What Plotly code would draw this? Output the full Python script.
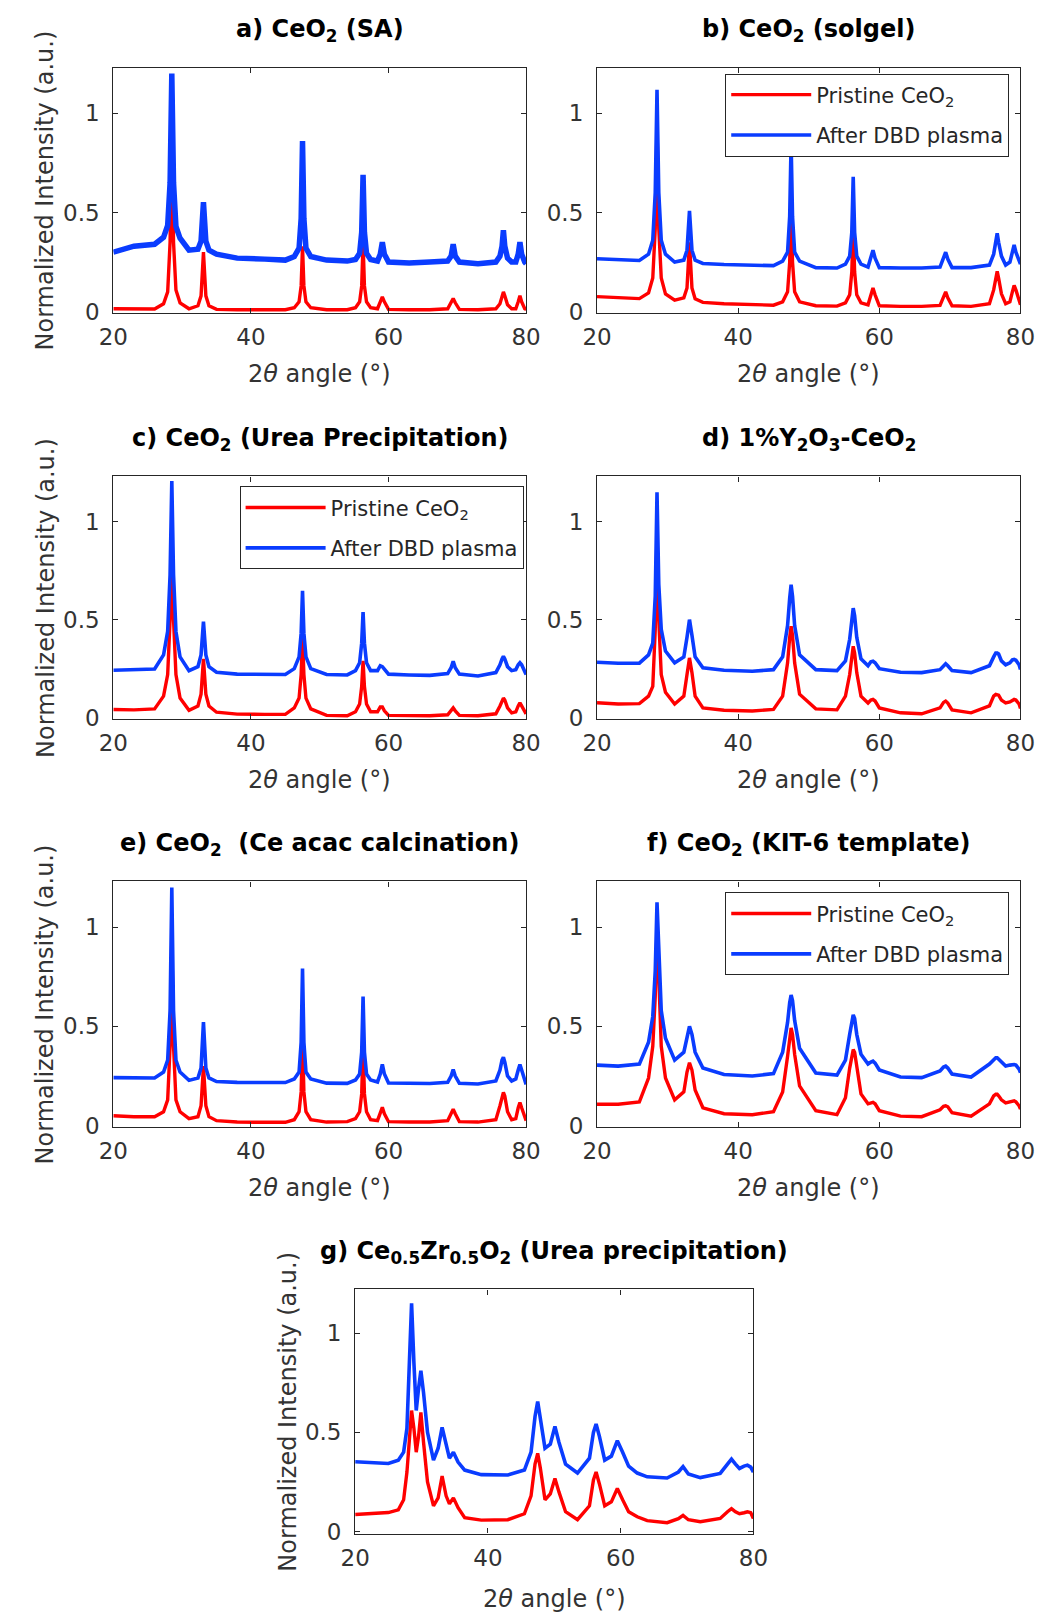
import plotly.graph_objects as go

# ---------------- data ----------------
# common 2-theta sampling for the CeO2 patterns (panels a-f)
TWO_THETA = [20, 23, 26,
             27.3, 27.9, 28.25, 28.5, 28.75, 29.1, 29.7,
             31, 32.3, 32.75, 33.1, 33.45, 33.9,
             35, 38, 42, 45,
             46.3, 47.0, 47.3, 47.5, 47.7, 48.0, 48.7,
             51, 54,
             55.2, 55.8, 56.1, 56.3, 56.5, 56.8, 57.4,
             58.4, 58.8, 59.1, 59.4, 60,
             63, 66,
             68.6, 69.1, 69.4, 69.7, 70.3,
             73,
             75.6, 76.2, 76.5, 76.7, 76.9, 77.3, 77.9,
             78.5, 78.85, 79.1, 79.35, 79.8, 80]

A_PRISTINE = [0.015, 0.015, 0.014,
              0.04, 0.10, 0.35, 1.00, 0.35, 0.11, 0.045,
              0.015, 0.03, 0.08, 0.30, 0.08, 0.03,
              0.012, 0.01, 0.01, 0.01,
              0.02, 0.05, 0.13, 0.33, 0.13, 0.05, 0.02,
              0.01, 0.01,
              0.02, 0.05, 0.13, 0.35, 0.13, 0.05, 0.02,
              0.015, 0.05, 0.075, 0.05, 0.012,
              0.01, 0.01,
              0.015, 0.045, 0.067, 0.045, 0.012,
              0.01,
              0.015, 0.04, 0.08, 0.10, 0.08, 0.035, 0.015,
              0.015, 0.05, 0.08, 0.05, 0.015, 0.012]
A_PLASMA = [0.30, 0.33, 0.34,
            0.375, 0.435, 0.65, 1.20, 0.65, 0.43, 0.37,
            0.31, 0.315, 0.355, 0.552, 0.355, 0.31,
            0.29, 0.27, 0.265, 0.26,
            0.278, 0.32, 0.47, 0.86, 0.47, 0.32, 0.278,
            0.26, 0.255,
            0.263, 0.294, 0.40, 0.69, 0.40, 0.294, 0.263,
            0.255, 0.29, 0.35, 0.29, 0.25,
            0.245, 0.25,
            0.255, 0.28, 0.34, 0.28, 0.25,
            0.242,
            0.25, 0.28, 0.33, 0.41, 0.33, 0.27, 0.25,
            0.25, 0.29, 0.35, 0.29, 0.25, 0.242]

B_PRISTINE = [0.076, 0.07, 0.066,
              0.095, 0.17, 0.42, 0.95, 0.42, 0.17, 0.09,
              0.058, 0.07, 0.12, 0.35, 0.12, 0.065,
              0.047, 0.04, 0.036, 0.033,
              0.05, 0.10, 0.25, 0.60, 0.25, 0.10, 0.05,
              0.03, 0.028,
              0.045, 0.085, 0.20, 0.45, 0.20, 0.085, 0.045,
              0.035, 0.085, 0.12, 0.085, 0.03,
              0.027, 0.027,
              0.032, 0.07, 0.10, 0.07, 0.03,
              0.027,
              0.04, 0.11, 0.17, 0.204, 0.17, 0.09, 0.04,
              0.05, 0.10, 0.133, 0.11, 0.05, 0.035]
B_PLASMA = [0.267, 0.262, 0.258,
            0.29, 0.36, 0.60, 1.118, 0.60, 0.36, 0.29,
            0.25, 0.26, 0.31, 0.508, 0.31, 0.26,
            0.243, 0.238, 0.235, 0.232,
            0.255, 0.30, 0.48, 0.85, 0.48, 0.30, 0.255,
            0.222, 0.22,
            0.24, 0.28, 0.40, 0.68, 0.40, 0.28, 0.24,
            0.225, 0.27, 0.31, 0.27, 0.222,
            0.22, 0.22,
            0.225, 0.265, 0.30, 0.265, 0.222,
            0.222,
            0.235, 0.29, 0.35, 0.395, 0.35, 0.28, 0.235,
            0.25, 0.30, 0.337, 0.30, 0.25, 0.24]

C_PRISTINE = [0.042, 0.04, 0.045,
              0.11, 0.22, 0.50, 0.95, 0.50, 0.22, 0.10,
              0.038, 0.06, 0.12, 0.30, 0.12, 0.06,
              0.028, 0.018, 0.017, 0.017,
              0.05, 0.10, 0.22, 0.42, 0.22, 0.10, 0.045,
              0.012, 0.01,
              0.03, 0.07, 0.16, 0.29, 0.16, 0.07, 0.03,
              0.03, 0.055, 0.055, 0.035, 0.012,
              0.01, 0.01,
              0.015, 0.035, 0.05, 0.035, 0.012,
              0.01,
              0.02, 0.06, 0.09, 0.10, 0.09, 0.05, 0.025,
              0.03, 0.06, 0.076, 0.06, 0.03, 0.02]
C_PLASMA = [0.242, 0.245, 0.248,
            0.32, 0.44, 0.73, 1.207, 0.73, 0.44, 0.31,
            0.24, 0.26, 0.32, 0.49, 0.32, 0.26,
            0.232, 0.222, 0.22, 0.22,
            0.25, 0.31, 0.43, 0.647, 0.43, 0.31, 0.25,
            0.22, 0.218,
            0.24, 0.28, 0.38, 0.539, 0.38, 0.28, 0.24,
            0.24, 0.265, 0.26, 0.245, 0.222,
            0.218, 0.216,
            0.225, 0.255, 0.288, 0.255, 0.222,
            0.213,
            0.23, 0.27, 0.30, 0.313, 0.30, 0.26, 0.24,
            0.245, 0.27, 0.28, 0.27, 0.24, 0.22]

D_PRISTINE = [0.076, 0.07, 0.072,
              0.11, 0.16, 0.45, 0.95, 0.50, 0.22, 0.13,
              0.07, 0.11, 0.22, 0.305, 0.23, 0.11,
              0.05, 0.038, 0.034, 0.042,
              0.11, 0.28, 0.41, 0.466, 0.42, 0.28, 0.12,
              0.045, 0.04,
              0.11, 0.22, 0.32, 0.364, 0.33, 0.23, 0.11,
              0.075, 0.09, 0.093, 0.085, 0.05,
              0.025, 0.02,
              0.05, 0.078, 0.085, 0.075, 0.04,
              0.025,
              0.06, 0.11, 0.119, 0.119, 0.115, 0.09, 0.075,
              0.08, 0.09, 0.093, 0.09, 0.07, 0.047]
D_PLASMA = [0.283, 0.278, 0.278,
            0.32, 0.38, 0.62, 1.149, 0.68, 0.45, 0.34,
            0.28, 0.31, 0.41, 0.50, 0.42, 0.31,
            0.255, 0.242, 0.237, 0.245,
            0.31, 0.47, 0.61, 0.678, 0.62, 0.47, 0.32,
            0.245, 0.24,
            0.29, 0.40, 0.51, 0.559, 0.52, 0.41, 0.30,
            0.265, 0.285, 0.288, 0.28, 0.25,
            0.232, 0.23,
            0.245, 0.268, 0.275, 0.265, 0.24,
            0.23,
            0.265, 0.31, 0.33, 0.33, 0.325, 0.29, 0.27,
            0.28, 0.295, 0.297, 0.293, 0.27, 0.246]

E_PRISTINE = [0.05, 0.045, 0.045,
              0.07, 0.13, 0.40, 0.95, 0.40, 0.13, 0.07,
              0.035, 0.045, 0.10, 0.30, 0.10, 0.045,
              0.025, 0.018, 0.017, 0.017,
              0.03, 0.07, 0.17, 0.45, 0.17, 0.07, 0.03,
              0.018, 0.02,
              0.035, 0.07, 0.16, 0.40, 0.16, 0.07, 0.03,
              0.025, 0.065, 0.092, 0.06, 0.02,
              0.018, 0.018,
              0.025, 0.06, 0.083, 0.06, 0.02,
              0.018,
              0.03, 0.10, 0.15, 0.167, 0.15, 0.07, 0.03,
              0.035, 0.09, 0.117, 0.09, 0.035, 0.025]
E_PLASMA = [0.242, 0.24, 0.24,
            0.27, 0.33, 0.58, 1.20, 0.58, 0.33, 0.27,
            0.228, 0.24, 0.29, 0.522, 0.29, 0.24,
            0.222, 0.218, 0.217, 0.217,
            0.235, 0.27, 0.42, 0.792, 0.42, 0.27, 0.235,
            0.214, 0.213,
            0.23, 0.26, 0.37, 0.65, 0.37, 0.26, 0.23,
            0.22, 0.26, 0.308, 0.26, 0.215,
            0.212, 0.212,
            0.218, 0.25, 0.283, 0.25, 0.213,
            0.21,
            0.225, 0.28, 0.33, 0.345, 0.32, 0.25, 0.225,
            0.235, 0.28, 0.308, 0.28, 0.23, 0.208]

F_PRISTINE = [0.108, 0.108, 0.12,
              0.24, 0.40, 0.65, 1.00, 0.72, 0.40, 0.24,
              0.13, 0.17, 0.27, 0.317, 0.28, 0.18,
              0.09, 0.06, 0.055, 0.07,
              0.17, 0.35, 0.46, 0.492, 0.46, 0.36, 0.20,
              0.075, 0.055,
              0.14, 0.29, 0.36, 0.383, 0.37, 0.29, 0.16,
              0.11, 0.115, 0.117, 0.11, 0.075,
              0.048, 0.045,
              0.08, 0.097, 0.10, 0.095, 0.065,
              0.048,
              0.11, 0.15, 0.158, 0.158, 0.15, 0.13, 0.115,
              0.12, 0.125, 0.125, 0.12, 0.10, 0.083]
F_PLASMA = [0.305, 0.30, 0.31,
            0.42, 0.55, 0.78, 1.125, 0.85, 0.58, 0.44,
            0.33, 0.37, 0.45, 0.50, 0.46, 0.37,
            0.29, 0.258, 0.25, 0.262,
            0.37, 0.52, 0.62, 0.658, 0.63, 0.53, 0.39,
            0.265, 0.255,
            0.33, 0.46, 0.53, 0.558, 0.54, 0.46, 0.36,
            0.31, 0.32, 0.325, 0.315, 0.28,
            0.245, 0.242,
            0.275, 0.295, 0.30, 0.29, 0.26,
            0.245,
            0.31, 0.335, 0.342, 0.342, 0.335, 0.315, 0.30,
            0.305, 0.308, 0.308, 0.305, 0.285, 0.267]

# Ce0.5Zr0.5O2 pattern (panel g) has its own sampling
G_TWO_THETA = [20, 23, 25, 26.5, 27.3,
               27.8, 28.2, 28.5, 28.85, 29.2,
               29.55, 29.9, 30.3, 30.9, 31.8,
               32.5, 33.1, 33.7, 34.2, 34.8,
               35.5, 36.5, 39, 43, 45.5,
               46.5, 47.1, 47.5, 47.9, 48.6,
               49.4, 50.1, 50.7, 51.7, 53.5,
               55.3, 55.9, 56.3, 56.8, 57.6,
               58.6, 59.5, 60.3, 61.2, 62.5,
               64, 67, 68.7, 69.4, 70.2,
               72, 75, 76.1, 76.7, 77.3,
               77.9, 78.6, 79.1, 79.6, 80]
G_PRISTINE = [0.086, 0.09, 0.096, 0.11, 0.16,
              0.30, 0.50, 0.61, 0.52, 0.40,
              0.48, 0.60, 0.45, 0.25, 0.13,
              0.17, 0.28, 0.18, 0.14, 0.17,
              0.12, 0.07, 0.058, 0.06, 0.09,
              0.18, 0.34, 0.394, 0.32, 0.16,
              0.19, 0.268, 0.20, 0.10, 0.06,
              0.13, 0.26, 0.30, 0.24, 0.13,
              0.15, 0.217, 0.16, 0.10, 0.075,
              0.055, 0.045, 0.065, 0.082, 0.06,
              0.05, 0.066, 0.10, 0.116, 0.10,
              0.09, 0.095, 0.10, 0.095, 0.066]
G_PLASMA = [0.352, 0.345, 0.343, 0.36, 0.40,
            0.52, 0.85, 1.15, 0.85, 0.61,
            0.72, 0.81, 0.70, 0.50, 0.36,
            0.42, 0.525, 0.43, 0.37, 0.40,
            0.35, 0.31, 0.287, 0.285, 0.31,
            0.40, 0.58, 0.655, 0.56, 0.42,
            0.44, 0.53, 0.45, 0.34, 0.295,
            0.37, 0.50, 0.542, 0.48, 0.36,
            0.38, 0.458, 0.40, 0.33, 0.295,
            0.276, 0.27, 0.30, 0.327, 0.29,
            0.272, 0.293, 0.34, 0.365, 0.34,
            0.318, 0.33, 0.335, 0.325, 0.30]

SERIES_NAMES = ["Pristine CeO<sub>2</sub>", "After DBD plasma"]
PANEL_TITLES = [
    "a) CeO<sub>2</sub> (SA)",
    "b) CeO<sub>2</sub> (solgel)",
    "c) CeO<sub>2</sub> (Urea Precipitation)",
    "d) 1%Y<sub>2</sub>O<sub>3</sub>-CeO<sub>2</sub>",
    "e) CeO<sub>2</sub>\u00a0 (Ce acac calcination)",
    "f) CeO<sub>2</sub> (KIT-6 template)",
    "g) Ce<sub>0.5</sub>Zr<sub>0.5</sub>O<sub>2</sub> (Urea precipitation)",
]
X_TICKS = [20, 40, 60, 80]
Y_TICKS = [0, 0.5, 1]
Y_TICK_LABELS = ["0", "0.5", "1"]
X_TITLE = "2<i>θ</i> angle (°)"
Y_TITLE = "Normalized Intensity (a.u.)"

# ---------------- layout / styling ----------------
W, H = 1044, 1616
FONT = "DejaVu Sans"
INK = "#262626"
RED = "#ff0000"
BLUE = "#0a3cff"

# panel boxes in pixels: (left, right, top, bottom)
BOXES = [
    (93, 518, 60, 307), (591, 1027, 60, 307),
    (93, 518, 472, 716), (591, 1027, 472, 716),
    (93, 518, 880, 1127), (591, 1027, 880, 1127),
    (342, 752, 1291, 1537),
]
XTITLE_OFFSET = [62, 62, 62, 62, 62, 62, 66]
PANEL_DATA = [
    (TWO_THETA, A_PRISTINE, A_PLASMA),
    (TWO_THETA, B_PRISTINE, B_PLASMA),
    (TWO_THETA, C_PRISTINE, C_PLASMA),
    (TWO_THETA, D_PRISTINE, D_PLASMA),
    (TWO_THETA, E_PRISTINE, E_PLASMA),
    (TWO_THETA, F_PRISTINE, F_PLASMA),
    (G_TWO_THETA, G_PRISTINE, G_PLASMA),
]
LEGEND_OF = {1: "legend", 2: "legend2", 5: "legend3"}
YTITLE_PANELS = {0, 2, 4, 6}


def px(x):
    return x / W


def py(y):
    return 1 - y / H


fig = go.Figure()
annotations = []
layout = {}

for i, ((xs, pristine, plasma), (l, r, t, b)) in enumerate(zip(PANEL_DATA, BOXES)):
    n = "" if i == 0 else str(i + 1)
    xa, ya = "x" + n, "y" + n
    leg = LEGEND_OF.get(i)
    blue_w = 5.5 if i == 0 else 3.6
    fig.add_trace(go.Scatter(
        x=xs, y=pristine, mode="lines", name=SERIES_NAMES[0],
        line=dict(color=RED, width=3.4), xaxis=xa, yaxis=ya,
        showlegend=leg is not None, legend=leg or "legend",
        legendgroup=f"p{i}"))
    fig.add_trace(go.Scatter(
        x=xs, y=plasma, mode="lines", name=SERIES_NAMES[1],
        line=dict(color=BLUE, width=blue_w), xaxis=xa, yaxis=ya,
        showlegend=leg is not None, legend=leg or "legend",
        legendgroup=f"q{i}"))

    yr = [-0.01, 1.22] if i == 6 else [-0.005, 1.23]
    common = dict(showline=True, linecolor=INK, linewidth=1.2, mirror="ticks",
                  ticks="inside", ticklen=5, tickwidth=1, tickcolor=INK,
                  showgrid=False, zeroline=False,
                  tickfont=dict(family=FONT, size=23, color="#333333"))
    layout["xaxis" + n] = dict(domain=[px(l), px(r)], range=[20, 80],
                               tickvals=X_TICKS, anchor=ya,
                               ticklabelstandoff=4, **common)
    layout["yaxis" + n] = dict(domain=[py(b), py(t)], range=yr,
                               tickvals=Y_TICKS, ticktext=Y_TICK_LABELS,
                               anchor=xa, ticklabelstandoff=8, **common)

    cx = (l + r) / 2
    annotations.append(dict(text="<b>" + PANEL_TITLES[i] + "</b>", x=px(cx), y=py(t - 20),
                            xref="paper", yref="paper", xanchor="center", yanchor="bottom",
                            showarrow=False, font=dict(family=FONT, size=24, color="black")))
    annotations.append(dict(text=X_TITLE, x=px(cx), y=py(b + XTITLE_OFFSET[i]),
                            xref="paper", yref="paper", xanchor="center", yanchor="middle",
                            showarrow=False, font=dict(family=FONT, size=24, color="#333333")))
    if i in YTITLE_PANELS:
        annotations.append(dict(text=Y_TITLE, x=px(l - 70), y=py((t + b) / 2),
                                xref="paper", yref="paper", xanchor="center", yanchor="middle",
                                textangle=-90, showarrow=False,
                                font=dict(family=FONT, size=24, color="#333333")))

legend_style = dict(bgcolor="white", bordercolor=INK, borderwidth=1,
                    font=dict(family=FONT, size=21, color=INK),
                    xanchor="left", yanchor="top", traceorder="grouped",
                    tracegroupgap=10, itemwidth=80)
layout["legend"] = dict(x=px(723), y=py(66), **legend_style)
layout["legend2"] = dict(x=px(223), y=py(482), **legend_style)
layout["legend3"] = dict(x=px(723), y=py(891), **legend_style)

fig.update_layout(width=W, height=H, margin=dict(l=0, r=0, t=0, b=0),
                  paper_bgcolor="white", plot_bgcolor="white",
                  annotations=annotations, **layout)

fig.write_html("out.html")
